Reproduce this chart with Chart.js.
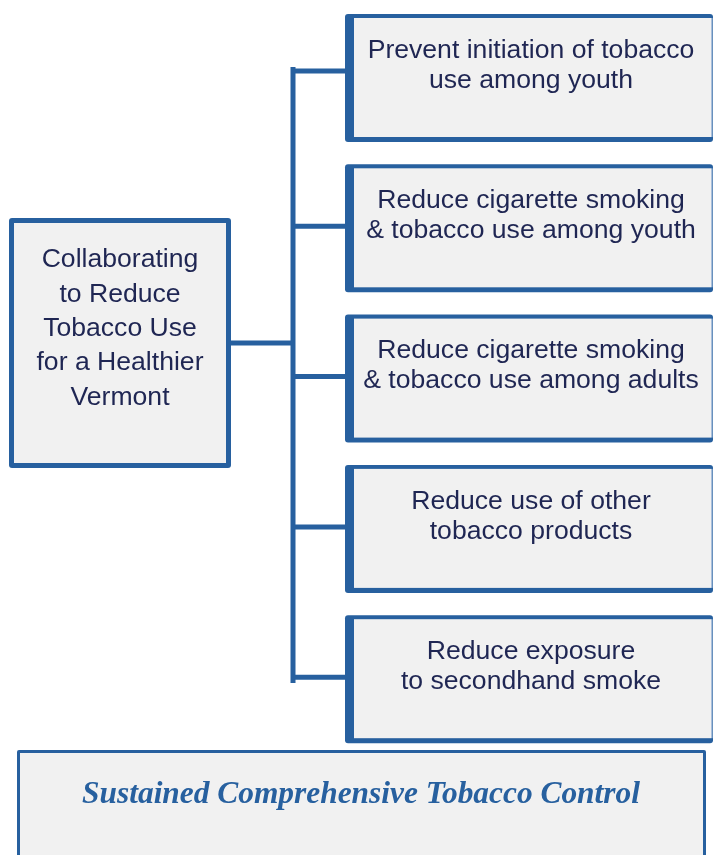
<!DOCTYPE html>
<html>
<head>
<meta charset="utf-8">
<script src="https://cdn.jsdelivr.net/npm/chart.js@4.4.1/dist/chart.umd.min.js"></script>
<style>
  html, body { margin: 0; padding: 0; background: #ffffff; }
  #wrap { width: 713px; height: 855px; }
</style>
</head>
<body>
<div id="wrap"><canvas id="c" width="713" height="855"></canvas></div>
<script>
// ---- content ----
const centerLabel = ["Collaborating", "to Reduce", "Tobacco Use", "for a Healthier", "Vermont"];
const goals = [
  ["Prevent initiation of tobacco", "use among youth"],
  ["Reduce cigarette smoking", "& tobacco use among youth"],
  ["Reduce cigarette smoking", "& tobacco use among adults"],
  ["Reduce use of other", "tobacco products"],
  ["Reduce exposure", "to secondhand smoke"]
];
const foundationLabel = "Sustained Comprehensive Tobacco Control";

// ---- style / layout ----
const BLUE = "#27609F";
const LIGHT = "#A9BFDB";
const FILL = "#F1F1F1";
const NAVY = "#1F2653";
const SANS = "26.6px 'Liberation Sans', Arial, sans-serif";

const diagramPlugin = {
  id: "diagram",
  afterDatasetsDraw(chart) {
    const ctx = chart.ctx;
    const sx = chart.scales.x, sy = chart.scales.y;
    const X = v => sx.getPixelForValue(v);
    const Y = v => sy.getPixelForValue(v);

    function box(x0, y0, x1, y1, bl, bt, br, bb, r) {
      ctx.save();
      ctx.fillStyle = BLUE;
      ctx.beginPath();
      ctx.roundRect(X(x0), Y(y0), X(x1) - X(x0), Y(y1) - Y(y0), r);
      ctx.fill();
      ctx.fillStyle = FILL;
      ctx.fillRect(X(x0 + bl), Y(y0 + bt), X(x1 - br) - X(x0 + bl), Y(y1 - bb) - Y(y0 + bt));
      ctx.restore();
    }
    function line(x0, y0, x1, y1, w) {
      ctx.save();
      ctx.strokeStyle = BLUE;
      ctx.lineWidth = w;
      ctx.lineCap = "butt";
      ctx.beginPath();
      ctx.moveTo(X(x0), Y(y0));
      ctx.lineTo(X(x1), Y(y1));
      ctx.stroke();
      ctx.restore();
    }
    function text(lines, cx, y0, lh, font, color) {
      ctx.save();
      ctx.font = font;
      ctx.fillStyle = color;
      ctx.textAlign = "center";
      ctx.textBaseline = "middle";
      lines.forEach((t, i) => ctx.fillText(t, X(cx), Y(y0 + i * lh)));
      ctx.restore();
    }

    // layout
    const goalTop0 = 14, goalStep = 150.3, goalH = 128;
    const goalX0 = 345, goalX1 = 713;
    const trunkX = 293;

    // trunk
    line(trunkX, 67, trunkX, 683, 5);
    // center connector
    line(229, 343, trunkX, 343, 5);

    // center box
    box(9, 218, 231, 468, 5, 5, 5, 5, 3);
    text(centerLabel, 120, 260, 34.3, SANS, NAVY);

    goals.forEach((g, i) => {
      const top = goalTop0 + i * goalStep;
      const cy = i === 0 ? 71 : top + 62;
      line(trunkX, cy, goalX0 + 2, cy, 5);
      box(goalX0, top, goalX1, top + goalH, 9, 4, 2, 5, 3);
      ctx.save();
      ctx.fillStyle = LIGHT;
      ctx.fillRect(X(711), Y(top + 4), 1.5, Y(top + goalH - 5) - Y(top + 4));
      ctx.restore();
      text(g, 531, top + 36.5, 30, SANS, NAVY);
    });

    // foundation box
    box(17, 750, 706, 862, 3, 3, 3, 3, 2);
    ctx.save();
    let fs = 32;
    ctx.font = "italic bold " + fs + "px 'Liberation Serif', 'DejaVu Serif', serif";
    const w = ctx.measureText(foundationLabel).width;
    fs = fs * 558 / w;
    ctx.restore();
    text([foundationLabel], 361, 795, 0, "italic bold " + fs.toFixed(1) + "px 'Liberation Serif', 'DejaVu Serif', serif", BLUE);
  }
};

new Chart(document.getElementById("c"), {
  type: "scatter",
  data: { datasets: [{ data: [], pointRadius: 0 }] },
  options: {
    responsive: false,
    animation: false,
    events: [],
    layout: { padding: 0 },
    plugins: { legend: { display: false }, tooltip: { enabled: false } },
    scales: {
      x: { type: "linear", min: 0, max: 713, display: false },
      y: { type: "linear", min: 0, max: 855, reverse: true, display: false }
    }
  },
  plugins: [diagramPlugin]
});
</script>
</body>
</html>
